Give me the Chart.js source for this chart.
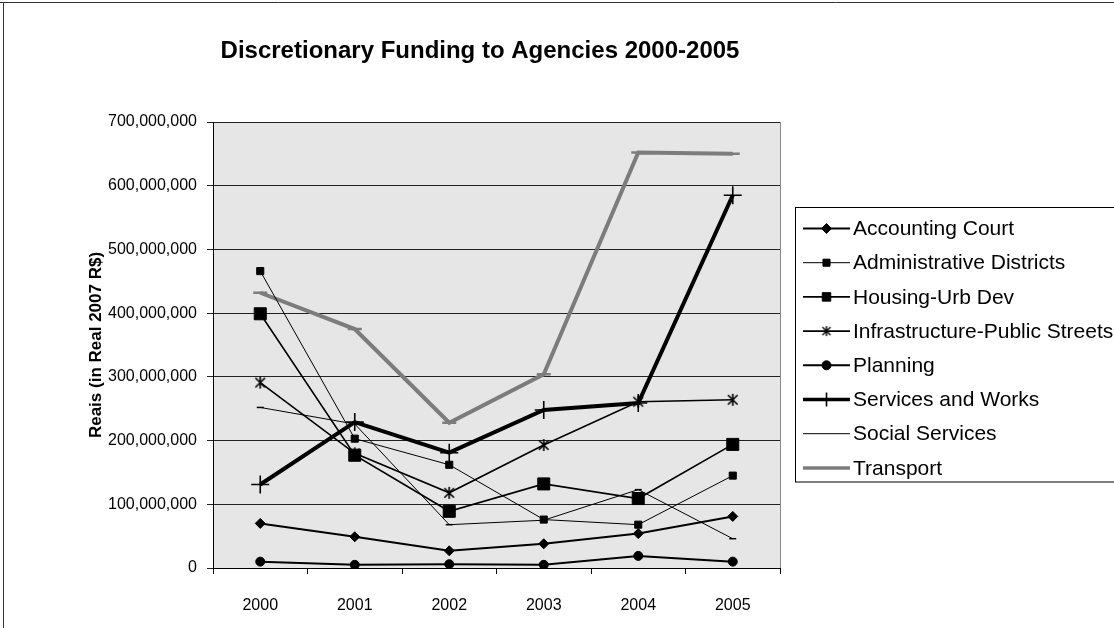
<!DOCTYPE html>
<html><head><meta charset="utf-8">
<script src="https://cdn.jsdelivr.net/npm/chart.js@4/dist/chart.umd.min.js"></script>
<style>html,body{margin:0;padding:0;background:#fff;}#wrap{width:1114px;height:628px;position:relative;}</style>
</head><body><div id="wrap"><canvas id="c" width="1114" height="628"></canvas></div>
<script>
const years = ['2000','2001','2002','2003','2004','2005'];
const accountingCourt = [70e6, 49e6, 27e6, 38e6, 54e6, 81e6];
const administrativeDistricts = [466e6, 203e6, 162e6, 76e6, 68e6, 145e6];
const housingUrbDev = [399e6, 177e6, 89e6, 132e6, 109e6, 194e6];
const infrastructurePublicStreets = [291e6, 180e6, 118e6, 193e6, 261e6, 264e6];
const planning = [10e6, 5e6, 6e6, 5e6, 19e6, 10e6];
const servicesAndWorks = [131e6, 229e6, 181e6, 248e6, 259e6, 585e6];
const socialServices = [252e6, 226e6, 68e6, 75e6, 123e6, 46e6];
const transport = [432e6, 375e6, 228e6, 304e6, 652e6, 650e6];
const yMin = 0, yMax = 700e6, yStep = 100e6;
const titleText = 'Discretionary Funding to Agencies 2000-2005';
const yTitle = 'Reais (in Real 2007 R$)';

function makeAsterisk(size, lw){
  const cv = document.createElement('canvas');
  cv.width = size; cv.height = size;
  const g = cv.getContext('2d');
  g.strokeStyle = '#000'; g.lineWidth = lw;
  const m = size/2, r = size/2 - 1;
  g.beginPath();
  g.moveTo(m - r*0.8, m - r*0.8); g.lineTo(m + r*0.8, m + r*0.8);
  g.moveTo(m + r*0.8, m - r*0.8); g.lineTo(m - r*0.8, m + r*0.8);
  g.moveTo(m, m - r); g.lineTo(m, m + r);
  g.stroke();
  return cv;
}
const asterisk = makeAsterisk(14, 1.6);
const asteriskSmall = makeAsterisk(12, 1.4);

const GRAY = '#7c7c7c';
const FONT = '"Liberation Sans", Arial, sans-serif';
function ds(label, data, o){
  return Object.assign({label, data, borderColor:'#000', backgroundColor:'#000',
    pointBackgroundColor:'#000', pointBorderColor:'#000', tension:0, fill:false,
    pointHoverRadius:0}, o);
}
const datasets = [
  ds('Accounting Court', accountingCourt, {borderWidth:2, pointStyle:'rectRot', pointRadius:5, pointBorderWidth:1}),
  ds('Administrative Districts', administrativeDistricts, {borderWidth:1, pointStyle:'rect', pointRadius:5, pointBorderWidth:1}),
  ds('Housing-Urb Dev', housingUrbDev, {borderWidth:1.6, pointStyle:'rect', pointRadius:8.5, pointBorderWidth:1}),
  ds('Infrastructure-Public Streets', infrastructurePublicStreets, {borderWidth:1.6, pointStyle:asterisk, pointRadius:7}),
  ds('Planning', planning, {borderWidth:2, pointStyle:'circle', pointRadius:4.5, pointBorderWidth:1}),
  ds('Services and Works', servicesAndWorks, {borderWidth:4, pointStyle:'cross', pointRadius:9, pointBorderWidth:1.6}),
  ds('Social Services', socialServices, {borderWidth:1, pointStyle:'line', pointRadius:3.5, pointBorderWidth:1.5}),
  ds('Transport', transport, {borderColor:GRAY, backgroundColor:GRAY, pointBackgroundColor:GRAY, pointBorderColor:GRAY, borderWidth:4, pointStyle:'line', pointRadius:7, pointBorderWidth:2.5})
];

const decor = {
  id:'decor',
  beforeDraw(chart){
    const {ctx, chartArea:a} = chart;
    ctx.save();
    ctx.fillStyle = '#fff'; ctx.fillRect(0,0,chart.width,chart.height);
    ctx.fillStyle = '#e6e6e6';
    ctx.fillRect(a.left, a.top, a.right - a.left, a.bottom - a.top);
    ctx.strokeStyle = '#333'; ctx.lineWidth = 1;
    ctx.beginPath(); ctx.moveTo(0, 2.5); ctx.lineTo(chart.width, 2.5);
    ctx.moveTo(3.5, 2); ctx.lineTo(3.5, chart.height); ctx.stroke();
    ctx.strokeStyle = '#888';
    ctx.beginPath(); ctx.moveTo(a.right+0.5, a.top); ctx.lineTo(a.right+0.5, a.bottom); ctx.stroke();
    ctx.restore();
  },
  afterDraw(chart){
    const ctx = chart.ctx;
    ctx.save();
    ctx.fillStyle = '#000';
    ctx.font = 'bold 24px ' + FONT;
    ctx.textAlign = 'center'; ctx.textBaseline = 'middle';
    ctx.fillText(titleText, 480, 51);
    ctx.strokeStyle = '#000'; ctx.lineWidth = 1;
    ctx.strokeRect(795.5, 207.5, 330, 274.5);
    ctx.font = '21px ' + FONT;
    ctx.textAlign = 'left';
    chart.data.datasets.forEach((d, i) => {
      const y = 228.5 + i * 34.2;
      ctx.strokeStyle = d.borderColor; ctx.lineWidth = Math.min(d.borderWidth, 3.5);
      ctx.beginPath(); ctx.moveTo(803, y); ctx.lineTo(850, y); ctx.stroke();
      let style = d.pointStyle, r = Math.min(d.pointRadius, 6);
      if (style === asterisk) { style = asteriskSmall; }
      if (style === 'line') r = 0;
      if (style === 'cross') r = 7;
      if (r > 0) {
        ctx.fillStyle = d.pointBackgroundColor; ctx.strokeStyle = d.pointBorderColor;
        ctx.lineWidth = d.pointBorderWidth || 1;
        Chart.helpers.drawPoint(ctx, {pointStyle:style, radius:r, borderWidth:d.pointBorderWidth || 1, rotation:0}, 826.5, y);
      }
      ctx.fillStyle = '#000';
      ctx.fillText(d.label, 853, y + 1);
    });
    ctx.restore();
  }
};

new Chart(document.getElementById('c'), {
  type:'line',
  data:{labels:years, datasets},
  options:{
    responsive:false, animation:false, devicePixelRatio:1,
    layout:{padding:{left:86, top:122, right:334, bottom:0}},
    plugins:{legend:{display:false}, title:{display:false}, tooltip:{enabled:false}},
    elements:{line:{borderCapStyle:'butt', borderJoinStyle:'miter'}},
    scales:{
      x:{type:'category', offset:true,
        grid:{drawOnChartArea:false, drawTicks:true, tickLength:6, color:'#000', offset:true},
        border:{display:true, color:'#000', width:1},
        ticks:{font:{size:16, family:FONT}, color:'#000', padding:22, maxRotation:0},
        afterFit(s){ s.height = 60; }
      },
      y:{min:yMin, max:yMax,
        ticks:{stepSize:yStep, font:{size:16, family:FONT}, color:'#000', padding:10,
          callback:v => Number(v).toLocaleString('en-US')},
        grid:{color:'#222', lineWidth:1, tickLength:6, drawTicks:true},
        border:{display:true, color:'#000', width:1},
        title:{display:true, text:yTitle, color:'#000', padding:0,
          font:{size:17, weight:'bold', family:FONT}},
        afterFit(s){ s.width = 127; }
      }
    }
  },
  plugins:[decor]
});
</script></body></html>
